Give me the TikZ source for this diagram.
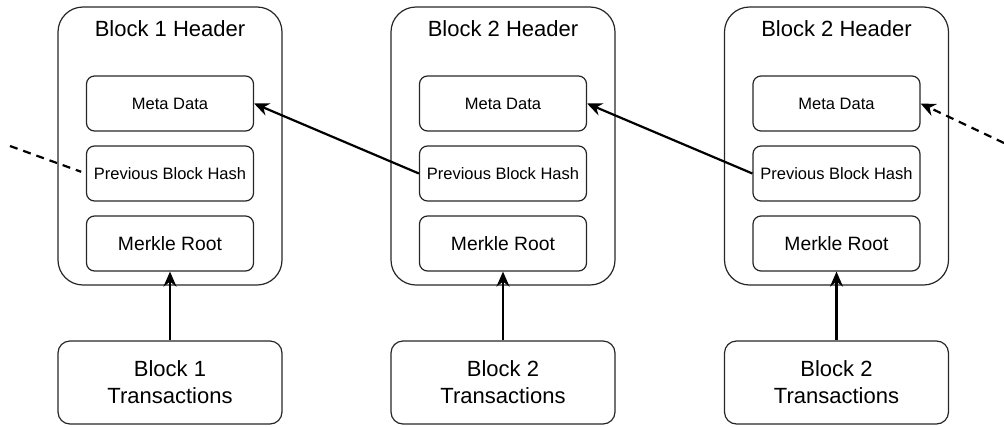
\documentclass[tikz,border=0pt]{standalone}
\usepackage{fontspec}
\setmainfont{Liberation Sans}
\usetikzlibrary{arrows.meta}
\begin{document}
\begin{tikzpicture}[x=1pt,y=-1pt,
  outerbox/.style={draw=black!85,line width=1.2pt,rounded corners=25pt,minimum width=224pt,minimum height=278pt,inner sep=0pt},
  innerbox/.style={draw=black!85,line width=1.2pt,rounded corners=8pt,minimum width=167pt,minimum height=55pt,inner sep=0pt,font=\fontsize{16.5}{19}\selectfont},
  merklebox/.style={innerbox,font=\fontsize{19.3}{22}\selectfont},
  txbox/.style={draw=black!85,line width=1.2pt,rounded corners=12pt,minimum width=224pt,minimum height=83pt,inner sep=0pt,align=center,font=\fontsize{22}{27}\selectfont},
  titletext/.style={inner sep=0pt,font=\fontsize{22}{26}\selectfont},
  tip/.style={-{Stealth[length=15pt,width=13pt,inset=5pt]}},
  link/.style={line width=2.2pt,tip},
  dashlink/.style={line width=2.2pt,dash pattern=on 8pt off 6pt}
]
\useasboundingbox (0,0) rectangle (1004,426);
\foreach \n/\cx/\t in {1/170/Block 1 Header,2/503/Block 2 Header,3/836.5/Block 2 Header}{
  \node[outerbox] (outer\n) at (\cx,146) {};
  \node[titletext] (title\n) at (\cx,29) {\t};
  \node[innerbox] (meta\n) at (\cx,103.5) {Meta Data};
  \node[innerbox] (prev\n) at (\cx,173.5) {Previous Block Hash};
  \node[merklebox] (merkle\n) at (\cx,243.5) {Merkle Root};
}
\node[txbox] (tx1) at (170,382.5) {Block 1\\Transactions};
\node[txbox] (tx2) at (503,382.5) {Block 2\\Transactions};
\node[txbox] (tx3) at (836.5,382.5) {Block 2\\Transactions};
\foreach \n in {1,2,3}{
  \draw[link] (tx\n.north) -- (merkle\n.south);
}
\draw[link] (prev2.west) -- (meta1.east);
\draw[link] (prev3.west) -- (meta2.east);
\coordinate (leftend) at (10,146);
\coordinate (rightend) at (1004,143);
\draw[dashlink,shorten >=5pt] (leftend) -- (prev1.west);
\draw[dashlink,tip] (rightend) -- (meta3.east);
\end{tikzpicture}
\end{document}
